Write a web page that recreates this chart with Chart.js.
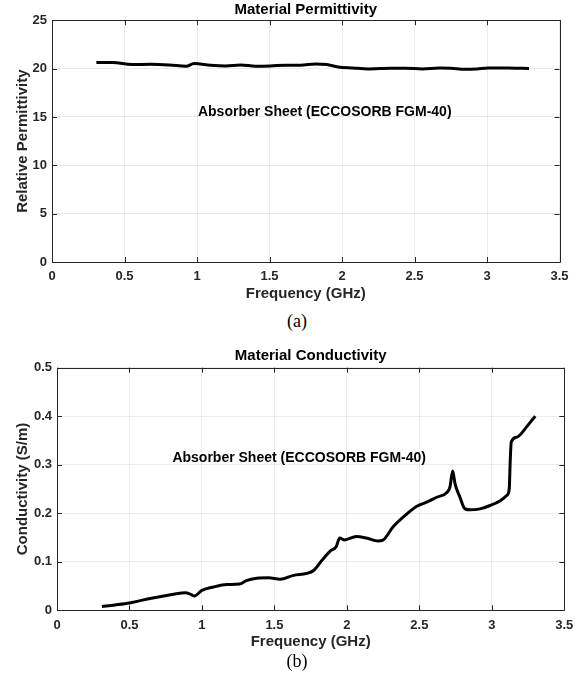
<!DOCTYPE html>
<html>
<head>
<meta charset="utf-8">
<script src="https://cdn.jsdelivr.net/npm/chart.js@4.4.1/dist/chart.umd.min.js"></script>
<style>
  html, body { margin: 0; padding: 0; background: #fff; }
  body { width: 588px; height: 679px; position: relative; overflow: hidden; }
  .box { position: absolute; left: 0; width: 588px; }
  .cap { position: absolute; width: 588px; left: 0; text-align: center;
         font-family: "Liberation Serif", "Times New Roman", serif; font-size: 18px; color: #000; }
</style>
</head>
<body>
<div class="box" id="boxA" style="top:0; height:310px;"><canvas id="chartA"></canvas></div>
<div class="cap" style="top:311px; left:3px;">(a)</div>
<div class="box" id="boxB" style="top:340px; height:315px;"><canvas id="chartB"></canvas></div>
<div class="cap" style="top:651px; left:3px;">(b)</div>
<script>
// ---------- data ----------
const xTickLabels = ["0", "0.5", "1", "1.5", "2", "2.5", "3", "3.5"];
const permYTickLabels = ["0", "5", "10", "15", "20", "25"];
const condYTickLabels = ["0", "0.1", "0.2", "0.3", "0.4", "0.5"];

const permFreq = [0.306, 0.42, 0.551, 0.68, 0.81, 0.926, 0.98, 1.094, 1.198, 1.301, 1.404, 1.507, 1.611, 1.714, 1.817, 1.895, 1.973, 2.076, 2.18, 2.335, 2.438, 2.555, 2.671, 2.749, 2.852, 2.93, 3.007, 3.137, 3.29];
const permValues = [20.63, 20.63, 20.42, 20.45, 20.38, 20.25, 20.53, 20.35, 20.28, 20.38, 20.25, 20.28, 20.35, 20.35, 20.49, 20.42, 20.18, 20.07, 19.97, 20.04, 20.04, 19.97, 20.07, 20.04, 19.93, 19.97, 20.07, 20.07, 20.02];

const condFreq = [0.31, 0.4, 0.5, 0.574, 0.69, 0.804, 0.885, 0.915, 0.947, 1.0, 1.08, 1.172, 1.259, 1.306, 1.379, 1.459, 1.54, 1.632, 1.724, 1.77, 1.828, 1.885, 1.926, 1.95, 1.984, 2.065, 2.134, 2.215, 2.25, 2.319, 2.388, 2.48, 2.55, 2.62, 2.69, 2.711, 2.73, 2.746, 2.78, 2.815, 2.85, 2.919, 2.988, 3.058, 3.104, 3.12, 3.127, 3.134, 3.173, 3.24, 3.277, 3.30];
const condValues = [0.008, 0.011, 0.015, 0.020, 0.027, 0.033, 0.036, 0.034, 0.0295, 0.041, 0.048, 0.053, 0.054, 0.061, 0.066, 0.067, 0.064, 0.072, 0.076, 0.082, 0.103, 0.122, 0.131, 0.149, 0.145, 0.152, 0.149, 0.143, 0.145, 0.172, 0.192, 0.214, 0.223, 0.233, 0.243, 0.254, 0.287, 0.261, 0.233, 0.209, 0.207, 0.209, 0.216, 0.226, 0.237, 0.250, 0.309, 0.347, 0.357, 0.378, 0.392, 0.40];

const annotationText = "Absorber Sheet (ECCOSORB FGM-40)";

// ---------- helpers ----------
const AXIS_COLOR = "#262626";
const FONT = "'Liberation Sans', Arial, Helvetica, sans-serif";

const framePlugin = {
  id: "frame",
  afterDraw(chart, args, opts) {
    const ctx = chart.ctx;
    const a = chart.chartArea;
    const xs = chart.scales.x, ys = chart.scales.y;
    ctx.save();
    // box
    ctx.strokeStyle = AXIS_COLOR;
    ctx.lineWidth = 1;
    ctx.beginPath();
    ctx.rect(Math.round(a.left) + 0.5, Math.round(a.top) + 0.5,
             Math.round(a.right) - Math.round(a.left), Math.round(a.bottom) - Math.round(a.top));
    ctx.stroke();
    // inward ticks
    const L = 5;
    ctx.beginPath();
    xs.ticks.forEach(t => {
      const px = Math.round(xs.getPixelForValue(t.value)) + 0.5;
      ctx.moveTo(px, a.bottom); ctx.lineTo(px, a.bottom - L);
      ctx.moveTo(px, a.top); ctx.lineTo(px, a.top + L);
    });
    ys.ticks.forEach(t => {
      const py = Math.round(ys.getPixelForValue(t.value)) + 0.5;
      ctx.moveTo(a.left, py); ctx.lineTo(a.left + L, py);
      ctx.moveTo(a.right, py); ctx.lineTo(a.right - L, py);
    });
    ctx.stroke();
    // texts
    ctx.fillStyle = "#000";
    ctx.textAlign = "center";
    ctx.textBaseline = "middle";
    ctx.font = "bold 15px " + FONT;
    ctx.fillText(opts.title, (a.left + a.right) / 2, opts.titleY);
    ctx.fillStyle = AXIS_COLOR;
    ctx.fillText(opts.xTitle, (a.left + a.right) / 2, opts.xTitleY);
    ctx.save();
    ctx.translate(opts.yTitleX, (a.top + a.bottom) / 2);
    ctx.rotate(-Math.PI / 2);
    ctx.fillText(opts.yTitle, 0, 0);
    ctx.restore();
    ctx.fillStyle = "#000";
    ctx.font = "bold 14px " + FONT;
    ctx.fillText(opts.note, xs.getPixelForValue(opts.noteX), ys.getPixelForValue(opts.noteY));
    ctx.restore();
  }
};

function makeChart(id, freq, vals, yMax, yStep, yLabels, geom, texts) {
  const pts = freq.map((f, i) => ({ x: f, y: vals[i] }));
  return new Chart(document.getElementById(id), {
    type: "line",
    data: { datasets: [{ data: pts, borderColor: "#000", borderWidth: 3, pointRadius: 0,
                         cubicInterpolationMode: "monotone", fill: false }] },
    options: {
      responsive: true, maintainAspectRatio: false, animation: false,
      layout: { padding: { left: 0, right: geom.right, top: geom.top, bottom: 0 } },
      plugins: { legend: { display: false }, tooltip: { enabled: false }, frame: texts },
      scales: {
        x: {
          type: "linear", min: 0, max: 3.5,
          afterFit: s => { s.height = geom.xAxisH; },
          border: { display: false },
          grid: { color: "rgba(0,0,0,0.08)", drawTicks: false },
          ticks: { stepSize: 0.5, padding: 7, color: AXIS_COLOR, maxRotation: 0,
                   font: { family: FONT, size: 13, weight: "bold" },
                   callback: (v) => xTickLabels[Math.round(v / 0.5)] }
        },
        y: {
          min: 0, max: yMax,
          afterFit: s => { s.width = geom.left; },
          border: { display: false },
          grid: { color: "rgba(0,0,0,0.08)", drawTicks: false },
          ticks: { stepSize: yStep, padding: 5, color: AXIS_COLOR,
                   font: { family: FONT, size: 13, weight: "bold" },
                   callback: (v) => yLabels[Math.round(v / yStep)] }
        }
      }
    },
    plugins: [framePlugin]
  });
}

makeChart("chartA", permFreq, permValues, 25, 5, permYTickLabels,
  { left: 52, right: 28.5, top: 20.3, xAxisH: 48 },
  { title: "Material Permittivity", titleY: 9.5, xTitle: "Frequency (GHz)", xTitleY: 294,
    yTitle: "Relative Permittivity", yTitleX: 23, note: annotationText, noteX: 1.881, noteY: 15.53 });

makeChart("chartB", condFreq, condValues, 0.5, 0.1, condYTickLabels,
  { left: 57, right: 23.7, top: 27.7, xAxisH: 44.7 },
  { title: "Material Conductivity", titleY: 16, xTitle: "Frequency (GHz)", xTitleY: 302,
    yTitle: "Conductivity (S/m)", yTitleX: 23, note: annotationText, noteX: 1.671, noteY: 0.313 });
</script>
</body>
</html>
